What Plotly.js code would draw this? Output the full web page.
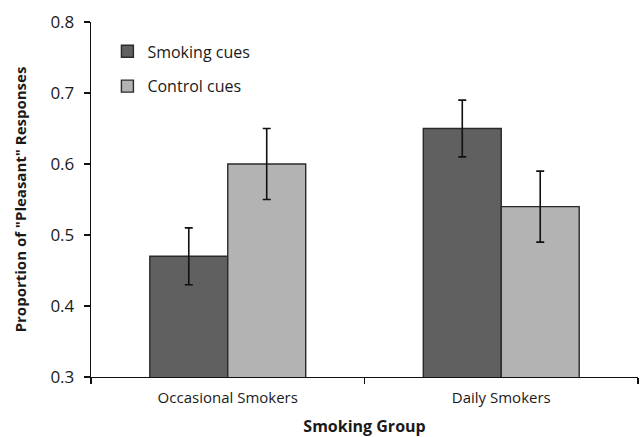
<!DOCTYPE html>
<html>
<head>
<meta charset="utf-8">
<script src="https://cdn.plot.ly/plotly-3.0.1.min.js"></script>
<style>html,body{margin:0;padding:0;background:#fff}#chart{width:643px;height:437px}</style>
</head>
<body>
<div id="chart"></div>
<script>
const categories = ["Occasional Smokers", "Daily Smokers"];
const smokingCues = [0.47, 0.65];
const smokingErr = [0.04, 0.04];
const controlCues = [0.60, 0.54];
const controlErr = [0.05, 0.05];
const seriesNames = ["Smoking cues", "Control cues"];
const yTicks = [0.3, 0.4, 0.5, 0.6, 0.7, 0.8];

const font = "Open Sans, Noto Sans, sans-serif";
const errStyle = {type: "data", visible: true, color: "#111", thickness: 1.6, width: 4};

const traces = [
  {type: "bar", name: seriesNames[0], x: categories, y: smokingCues, legendgroup: "a",
   marker: {color: "#606060", line: {color: "#2a2a2a", width: 1.4}},
   error_y: Object.assign({array: smokingErr}, errStyle)},
  {type: "bar", name: seriesNames[1], x: categories, y: controlCues, legendgroup: "b",
   marker: {color: "#b3b3b3", line: {color: "#2a2a2a", width: 1.4}},
   error_y: Object.assign({array: controlErr}, errStyle)}
];

const layout = {
  width: 643, height: 437,
  margin: {l: 91, r: 5, t: 22, b: 60},
  paper_bgcolor: "#fff", plot_bgcolor: "#fff",
  font: {family: font, size: 15, color: "#1a1a1a"},
  barmode: "group", bargap: 0.43, bargroupgap: 0,
  showlegend: true,
  legend: {x: 0.03, y: 0.965, xanchor: "left", yanchor: "top", bgcolor: "rgba(0,0,0,0)",
           font: {family: font, size: 16, color: "#1a1a1a"}, traceorder: "grouped", tracegroupgap: 11},
  xaxis: {
    type: "category", showline: true, linecolor: "#111", linewidth: 1.3,
    ticks: "outside", tickson: "boundaries", ticklen: 6, tickcolor: "#111", tickwidth: 1.3,
    ticklabelstandoff: 7,
    showgrid: false, zeroline: false,
    tickfont: {family: font, size: 15, color: "#1a1a1a"},
    title: {text: "<b>Smoking Group</b>", font: {family: font, size: 16, color: "#1a1a1a"}, standoff: 16}
  },
  yaxis: {
    range: [0.3, 0.8], tickvals: yTicks, ticktext: yTicks.map(v => v.toFixed(1)),
    showline: true, linecolor: "#111", linewidth: 1.3,
    ticks: "outside", ticklen: 6, tickcolor: "#111", tickwidth: 1.3,
    ticklabelstandoff: 6,
    showgrid: false, zeroline: false,
    tickfont: {family: font, size: 17, color: "#1a1a1a"},
    title: {text: "<b>Proportion of \"Pleasant\" Responses</b>", font: {family: font, size: 15, color: "#1a1a1a"}, standoff: 20}
  }
};

Plotly.newPlot("chart", traces, layout, {displayModeBar: false, staticPlot: true});
</script>
</body>
</html>
